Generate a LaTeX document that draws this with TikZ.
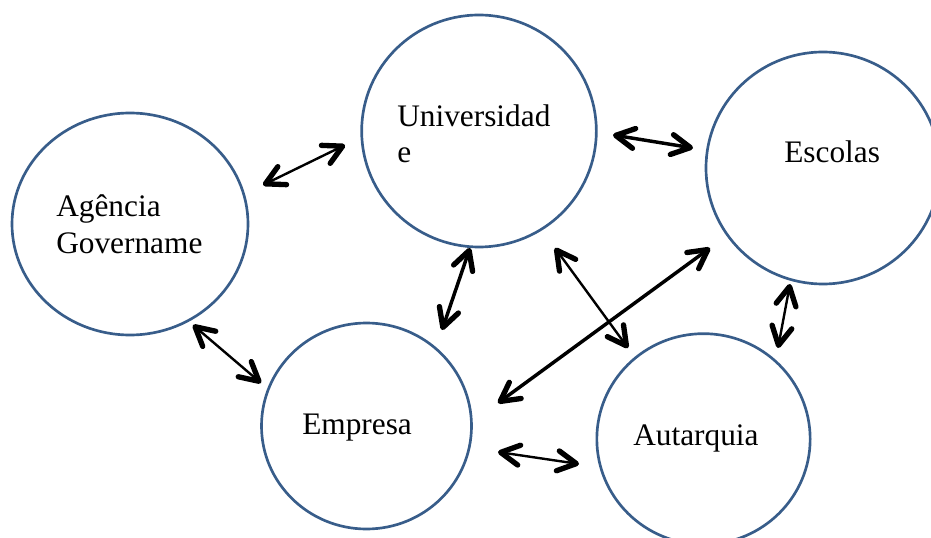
\documentclass[tikz,border=0pt]{standalone}
\usepackage{fontspec}
\setmainfont{Liberation Serif}
\usetikzlibrary{shapes.geometric, arrows.meta}
\definecolor{rim}{HTML}{385D8A}
\tikzstyle{circ} = [ellipse, draw=rim, line width=2pt, inner sep=0pt]
\tikzstyle{lbl} = [anchor=base west, inner sep=0pt, align=left, font=\fontsize{23.5}{27.5}\selectfont]
\tikzstyle{arrow} = [line width=1.8pt, {Straight Barb[length=14pt,width=15pt,line width=4pt,round]}-{Straight Barb[length=14pt,width=15pt,line width=4pt,round]}]
\tikzstyle{arrowbig} = [arrow, line width=2.6pt]

\begin{document}
\begin{tikzpicture}[x=0.75pt, y=-0.75pt]
\useasboundingbox (0,0) rectangle (931,538);
\clip (0,0) rectangle (931,538);

\node (uni) [circ, minimum width=176pt, minimum height=174pt] at (479,131) {};
\node (esc) [circ, minimum width=175.5pt, minimum height=174pt] at (823,168) {};
\node (ag) [circ, minimum width=177pt, minimum height=166.5pt] at (130,224) {};
\node (emp) [circ, minimum width=157.5pt, minimum height=154.5pt] at (366.5,426) {};
\node (aut) [circ, minimum width=160pt, minimum height=158pt] at (703.5,439) {};

\node (tuni) [lbl] at (397,163) {Universidad\\e};
\node (tesc) [lbl] at (784,163) {Escolas};
\node (tag) [lbl] at (56,253) {Agência\\Govername};
\node (temp) [lbl] at (302,434) {Empresa};
\node (taut) [lbl] at (633,445) {Autarquia};

% arrow ends
\coordinate (a1) at (263,185); \coordinate (b1) at (345,145);
\coordinate (a2) at (613,135); \coordinate (b2) at (693,148);
\coordinate (a3) at (470,248); \coordinate (b3) at (442,330);
\coordinate (a4) at (555,248); \coordinate (b4) at (628,348);
\coordinate (a5) at (710,248); \coordinate (b5) at (498,403);
\coordinate (a6) at (790,284); \coordinate (b6) at (778,348);
\coordinate (a7) at (193,325); \coordinate (b7) at (261,383);
\coordinate (a8) at (498,452); \coordinate (b8) at (579,464);

\draw [arrow] (a1) -- (b1);
\draw [arrowbig] (a2) -- (b2);
\draw [arrowbig] (a3) -- (b3);
\draw [arrow] (a4) -- (b4);
\draw [arrowbig] (a5) -- (b5);
\draw [arrow] (a6) -- (b6);
\draw [arrow] (a7) -- (b7);
\draw [arrow] (a8) -- (b8);

\end{tikzpicture}
\end{document}
